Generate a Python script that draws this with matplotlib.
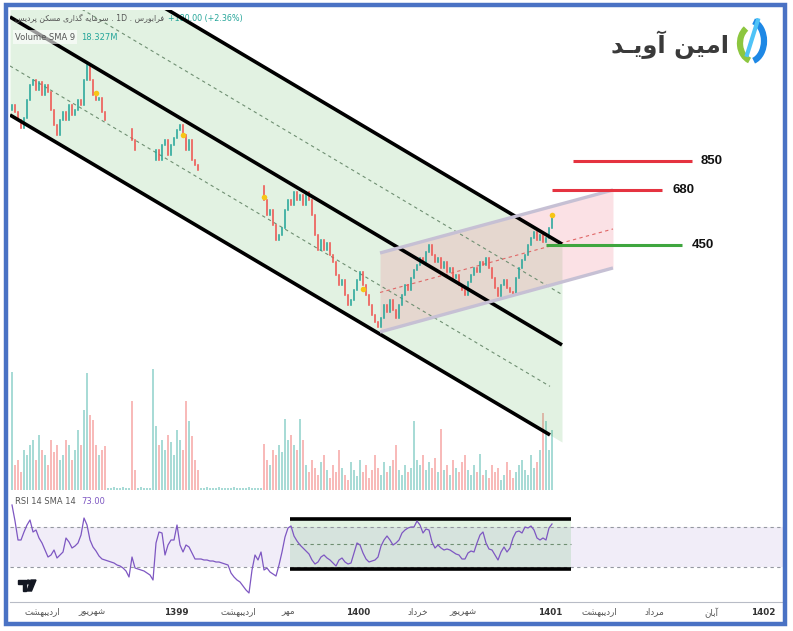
import numpy as np
import matplotlib.pyplot as plt
from matplotlib.patches import Rectangle, Arc, Polygon, Circle


OUTPUT_PATH = "out.png"
W, H = 793, 631

# ---- price data (daily, bar index 0..180) ----
closes = [
    1300, 1233, 1160, 1092, 1178, 1350, 1512, 1571, 1456, 1547,
    1402, 1512, 1434, 1251, 1117, 1035, 1160, 1233, 1160, 1300,
    1205, 1251, 1350, 1300, 1571, 1760, 1571, 1402, 1350, 1371,
    1233, 1160, 1143, 1134, 1126, 1117, 1109, 1100, 1092, 1083,
    997, 924, 877, 870, 870, 864, 857, 857, 924, 857,
    960, 997, 890, 960, 1012, 1075, 1117, 1035, 924, 997,
    857, 825, 794, 788, 788, 782, 782, 776, 776, 771,
    771, 765, 765, 759, 753, 747, 742, 736, 731, 725,
    720, 714, 709, 704, 633, 565, 587, 524, 467, 485,
    512, 587, 633, 609, 673, 633, 657, 609, 673, 633,
    565, 485, 433, 467, 433, 457, 417, 396, 359, 333,
    345, 308, 286, 297, 320, 345, 367, 333, 308, 286,
    265, 251, 241, 259, 286, 271, 297, 275, 259, 286,
    308, 333, 320, 351, 373, 387, 408, 396, 427, 450,
    417, 396, 408, 379, 396, 367, 379, 351, 359, 333,
    320, 308, 340, 359, 379, 367, 396, 387, 408, 379,
    351, 325, 306, 333, 345, 325, 315, 308, 351, 379,
    402, 417, 450, 474, 496, 467, 485, 460, 474, 512,
    552,
]
first_open = 1250
# bars where the symbol was halted (open == close, tiny dashes)
halt_ranges = [(32, 39), (42, 46), (63, 83)]

# volume in millions
volumes = [
    59, 12.5, 15, 9, 20, 17.5, 22.5, 25, 15, 27.5,
    20, 17.5, 12.5, 25, 19, 22.5, 15, 17.5, 25, 22.5,
    15, 20, 30, 22.5, 40, 58.5, 37.5, 35, 22.5, 17.5,
    20, 22, 1, 1, 1.5, 1, 1, 1.5, 1, 1,
    44.5, 10, 1, 1.5, 1, 1, 1, 60.5, 32, 22.5,
    25, 20, 27.5, 24, 17.5, 30, 25, 20, 44.5, 34.5,
    27, 15, 10, 1, 1, 1.5, 1, 1, 1, 1.5,
    1, 1, 1, 1, 1.5, 1, 1, 1, 1, 1.5,
    1, 1, 1, 1, 23, 15, 12.5, 20, 17.5, 22.5,
    19, 35.5, 25, 27.5, 22.5, 20, 35.5, 25, 12.5, 9,
    15, 11, 7.5, 14, 17.5, 10, 6, 12.5, 9, 20,
    11, 7.5, 5, 14, 10, 7, 15, 9, 12.5, 6,
    10, 17.5, 11, 7.5, 14, 9, 12, 15, 22.5, 10,
    7.5, 12.5, 9, 11, 34.5, 15, 12.5, 17.5, 10, 14,
    11, 16, 9, 30.5, 10, 12.5, 7.5, 15, 11, 9,
    14, 17.5, 10, 7.5, 12.5, 9, 18, 7.5, 10, 6,
    12.5, 9, 11, 5, 7.5, 14, 10, 6, 9, 12.5,
    15, 10, 7.5, 17.5, 11, 14, 20, 38.5, 34.5, 20,
    30,
]

rsi = [
    92, 76, 57, 57, 65, 72, 77, 65, 67, 59,
    54, 47, 40, 42, 47, 39, 42, 45, 59, 55,
    49, 51, 54, 62, 79, 72, 57, 50, 46, 41,
    38, 37, 36, 35, 34, 32, 31, 29, 26, 20,
    40, 29, 28, 27, 26, 24, 22, 17, 54, 65,
    64, 42, 52, 57, 57, 72, 52, 45, 52, 50,
    44, 38, 38, 38, 37, 37, 36, 36, 35, 35,
    34, 33, 32, 24, 20, 17, 15, 11, 7, 4,
    27, 42, 37, 45, 27, 29, 25, 23, 21, 32,
    45, 60, 69, 71, 61, 56, 52, 49, 46, 43,
    37, 33, 35, 40, 42, 39, 37, 34, 31, 37,
    39, 35, 33, 34, 44, 54, 52, 44, 38, 35,
    36, 37, 40, 51, 57, 61, 57, 52, 54, 57,
    64, 67, 69, 70, 70, 76, 72, 64, 68, 67,
    55, 49, 52, 49, 47, 48, 47, 45, 43, 42,
    38, 38, 44, 46, 45, 54, 62, 65, 54, 48,
    47, 42, 37, 45, 50, 45, 49, 59, 65, 66,
    64, 70, 69, 71, 67, 59, 57, 59, 57, 69,
    73,
]

# yellow marker dots (bar index, price)
dot_idx = [28, 57, 84, 117, 180]
dot_price = [1424, 1035, 648, 322, 565]

# drawings: (start index, start price, end index, end price)
desc_top = (-0.67, 5437, 183.33, 453)
desc_mid = (-0.67, 2532, 183.33, 211)
desc_low = (-0.67, 1205, 179.33, 106.7)
desc_fill_end = 183.33
rise_top = (122.67, 423.5, 200.33, 682.6)
rise_low = (122.67, 232.8, 200.33, 378)

# target levels: value, start index, end index, label index, colour
level_values = [850, 680, 450]
level_start = [187, 180, 178]
level_end = [226.7, 216.7, 223.3]
level_label_at = [229.5, 220, 226.5]
level_colors = ["#e53340", "#e53340", "#3fa63f"]

# RSI box drawing
rsi_box_x = (92.7, 186.3)
rsi_box_y = (28, 78)

tick_pos = [10, 26.7, 54.7, 75.3, 92, 115.3, 135.3, 150.3, 179.3, 195.7, 214.3, 233, 250.3]
tick_labels = ["اردیبهشت", "شهریور", "1399", "اردیبهشت", "مهر", "1400", "خرداد",
               "شهریور", "1401", "اردیبهشت", "مرداد", "آبان", "1402"]

# ---- minimal Persian shaping (matplotlib has no complex text layout) ----
FORMS = {
    "ا": ("\uFE8D", "\uFE8E", None, None),
    "آ": ("\uFE81", "\uFE82", None, None),
    "ب": ("\uFE8F", "\uFE90", "\uFE91", "\uFE92"),
    "پ": ("\uFB56", "\uFB57", "\uFB58", "\uFB59"),
    "ت": ("\uFE95", "\uFE96", "\uFE97", "\uFE98"),
    "خ": ("\uFEA5", "\uFEA6", "\uFEA7", "\uFEA8"),
    "د": ("\uFEA9", "\uFEAA", None, None),
    "ذ": ("\uFEAB", "\uFEAC", None, None),
    "ر": ("\uFEAD", "\uFEAE", None, None),
    "س": ("\uFEB1", "\uFEB2", "\uFEB3", "\uFEB4"),
    "ش": ("\uFEB5", "\uFEB6", "\uFEB7", "\uFEB8"),
    "ف": ("\uFED1", "\uFED2", "\uFED3", "\uFED4"),
    "ک": ("\uFB8E", "\uFB8F", "\uFB90", "\uFB91"),
    "گ": ("\uFB92", "\uFB93", "\uFB94", "\uFB95"),
    "م": ("\uFEE1", "\uFEE2", "\uFEE3", "\uFEE4"),
    "ن": ("\uFEE5", "\uFEE6", "\uFEE7", "\uFEE8"),
    "و": ("\uFEED", "\uFEEE", None, None),
    "ه": ("\uFEE9", "\uFEEA", "\uFEEB", "\uFEEC"),
    "ی": ("\uFBFC", "\uFBFD", "\uFBFE", "\uFBFF"),
    "ـ": ("ـ", "ـ", "ـ", "ـ"),
}


def fa(text):
    """Shape a Persian string and return it in visual (left-to-right) order."""
    if not any(c in FORMS for c in text):
        return text
    out = []
    for k, c in enumerate(text):
        if c not in FORMS:
            out.append(c)
            continue
        iso, fin, ini, med = FORMS[c]
        prev = text[k - 1] if k > 0 else ""
        nxt = text[k + 1] if k < len(text) - 1 else ""
        jp = prev in FORMS and FORMS[prev][2] is not None
        jn = ini is not None and nxt in FORMS
        if jp and jn:
            out.append(med)
        elif jp:
            out.append(fin)
        elif jn:
            out.append(ini)
        else:
            out.append(iso)
    return "".join(out)[::-1]


def fig_box(x0, y0, x1, y1):
    return [x0 / W, 1 - y1 / H, (x1 - x0) / W, (y1 - y0) / H]


def on_line(line, i):
    i0, p0, i1, p1 = line
    t = (i - i0) / (i1 - i0)
    return np.exp(np.log(p0) + t * (np.log(p1) - np.log(p0)))


def main():
    plt.rcParams["font.family"] = ["DejaVu Sans"]
    fig = plt.figure(figsize=(W / 100, H / 100), dpi=100)
    fig.patch.set_facecolor("white")

    c = np.array(closes, dtype=float)
    idx = np.arange(len(c))
    o = np.concatenate([[first_open], c[:-1]])
    for a, b in halt_ranges:
        o[a:b + 1] = c[a:b + 1]
    up = c >= o
    cand_col = np.where(up, "#26a69a", "#ef5350")
    xlim = (-0.67, 257)

    # volume pane (drawn underneath the price axes)
    ax_vol = fig.add_axes(fig_box(10, 10, 783, 490))
    ax_vol.bar(idx, volumes, width=0.5, color=np.where(up, "#26a69a", "#ef5350"),
               alpha=0.4, linewidth=0)
    ax_vol.set_xlim(*xlim)
    ax_vol.set_ylim(0, 240)
    ax_vol.axis("off")

    ax = fig.add_axes(fig_box(10, 10, 783, 490))
    ax.set_facecolor("none")
    ax.set_yscale("log")
    ax.set_xlim(*xlim)
    ax.set_ylim(70.3, 2669)
    ax.axis("off")

    # descending channel
    xs = np.array([desc_top[0], desc_fill_end])
    ax.fill_between(xs, on_line(desc_top, xs), on_line(desc_low, xs),
                    color="#4caf50", alpha=0.16, linewidth=0, zorder=1)
    for line in (desc_top, desc_mid, desc_low):
        ax.plot([line[0], line[2]], [line[1], line[3]], color="black", lw=2.6,
                solid_capstyle="butt", zorder=4)
    xm1 = np.array([desc_top[0], desc_top[2]])
    ax.plot(xm1, np.sqrt(on_line(desc_top, xm1) * on_line(desc_mid, xm1)),
            color="#6f8f72", lw=0.8, dashes=(3, 3), zorder=2)
    xm2 = np.array([desc_low[0], desc_low[2]])
    ax.plot(xm2, np.sqrt(on_line(desc_mid, xm2) * on_line(desc_low, xm2)),
            color="#6f8f72", lw=0.8, dashes=(3, 3), zorder=2)

    # rising channel
    xr = np.array([rise_top[0], rise_top[2]])
    ax.fill_between(xr, on_line(rise_top, xr), on_line(rise_low, xr),
                    color="#f08a9a", alpha=0.25, linewidth=0, zorder=1)
    for line in (rise_top, rise_low):
        ax.plot([line[0], line[2]], [line[1], line[3]], color="#c6c0d4", lw=2.4,
                solid_capstyle="butt", zorder=4)
    ax.plot(xr, np.sqrt(on_line(rise_top, xr) * on_line(rise_low, xr)),
            color="#e06666", lw=0.8, dashes=(3, 3), zorder=2)

    # candles: thin bodies, square caps so flat (halted) days show as dashes
    lo = np.minimum(o, c)
    hi = np.maximum(o, c)
    bodies = ax.vlines(idx, lo, hi, colors=cand_col, linewidth=1.15, zorder=3)
    bodies.set_capstyle("projecting")
    ax.scatter(dot_idx, dot_price, s=16, color="#f7c515", zorder=6, linewidths=0)

    # target levels
    for v, s, e, la, col in zip(level_values, level_start, level_end, level_label_at, level_colors):
        ax.plot([s, e], [v, v], color=col, lw=2.2, solid_capstyle="butt", zorder=5)
        ax.text(la, v, str(v), fontsize=9.5, fontweight="bold", family="Liberation Sans",
                color="#111111", va="center", ha="left")

    # RSI pane
    ax_r = fig.add_axes(fig_box(10, 492, 783, 602))
    ax_r.set_xlim(*xlim)
    ax_r.set_ylim(-5, 105)
    ax_r.axhspan(30, 70, color="#7e57c2", alpha=0.1, linewidth=0)
    ax_r.axhline(70, color="#9598a1", lw=0.8, dashes=(3, 3))
    ax_r.axhline(30, color="#9598a1", lw=0.8, dashes=(3, 3))
    ax_r.fill_between(rsi_box_x, rsi_box_y[0], rsi_box_y[1], color="#4caf50",
                      alpha=0.16, linewidth=0)
    for yv in rsi_box_y:
        ax_r.plot(rsi_box_x, [yv, yv], color="black", lw=2.6, solid_capstyle="butt")
    ax_r.plot(rsi_box_x, [np.mean(rsi_box_y)] * 2, color="#6f8f72", lw=0.8, dashes=(3, 3))
    ax_r.plot(idx, rsi, color="#7e57c2", lw=0.9)
    for sp in ("top", "left", "right"):
        ax_r.spines[sp].set_visible(False)
    ax_r.spines["bottom"].set_color("#b8bcc6")
    ax_r.spines["bottom"].set_linewidth(0.8)
    ax_r.set_yticks([])
    ax_r.set_xticks(tick_pos)
    ax_r.set_xticklabels([fa(t) for t in tick_labels], fontsize=6.3, color="#555555")
    for lab in ax_r.get_xticklabels():
        if lab.get_text().isdigit():
            lab.set_fontweight("bold")
            lab.set_color("#333333")
    ax_r.tick_params(axis="x", length=0, pad=4)
    ax_r.set_facecolor("none")

    # pane legends
    t1 = fig.text(15 / W, 1 - 19 / H, fa("سرمایه گذاری مسکن پردیس") + " . 1D . " + fa("فرابورس"),
                  fontsize=5.6, color="#555555", va="center")
    ax.annotate("+180.00 (+2.36%)", xy=(1, 0.5), xycoords=t1, xytext=(3, 0),
                textcoords="offset points", fontsize=5.8, color="#26a69a", va="center")
    t2 = fig.text(15 / W, 1 - 37 / H, "Volume SMA 9", fontsize=6, color="#555555", va="center",
                  bbox=dict(facecolor="white", alpha=0.6, edgecolor="none", pad=1.5))
    ax.annotate("18.327M", xy=(1, 0.5), xycoords=t2, xytext=(4, 0),
                textcoords="offset points", fontsize=6, color="#26a69a", va="center")
    t3 = fig.text(15 / W, 1 - 502 / H, "RSI 14 SMA 14", fontsize=6, color="#555555", va="center")
    ax.annotate("73.00", xy=(1, 0.5), xycoords=t3, xytext=(4, 0),
                textcoords="offset points", fontsize=6, color="#7e57c2", va="center")

    # logo
    fig.text(729 / W, 1 - 45 / H, fa("امین آویـد"), fontsize=17.5, fontweight="bold",
             color="#3a3a3a", ha="right", va="center")
    ax_logo = fig.add_axes(fig_box(733, 18, 773, 64))
    ax_logo.set_xlim(0, 1)
    ax_logo.set_ylim(0, 1)
    ax_logo.axis("off")
    ax_logo.add_patch(Arc((0.55, 0.45), 0.75, 0.8, theta1=125, theta2=250, lw=4.5, color="#8cc63f"))
    ax_logo.add_patch(Arc((0.4, 0.5), 0.75, 0.9, theta1=-75, theta2=75, lw=4.5, color="#1e88e5"))
    ax_logo.plot([0.35, 0.62], [0.2, 0.95], color="#4fc3f7", lw=3)

    # TradingView mark
    ax_tv = fig.add_axes(fig_box(17, 577, 37, 593))
    ax_tv.set_xlim(0, 20)
    ax_tv.set_ylim(16, 0)
    ax_tv.axis("off")
    ax_tv.add_patch(Polygon([(1, 3), (9, 3), (9, 14), (6, 14), (6, 7), (1, 7)],
                            closed=True, color="#131722"))
    ax_tv.add_patch(Circle((11.3, 5), 1.9, color="#131722"))
    ax_tv.add_patch(Polygon([(14, 3), (19, 3), (14.5, 14), (10, 14)],
                            closed=True, color="#131722"))

    # blue screenshot frame
    fig.add_artist(Rectangle((6 / W, 1 - 624 / H), 779 / W, 619 / H, transform=fig.transFigure,
                             fill=False, edgecolor="#4a72c4", linewidth=3.2))

    fig.savefig(OUTPUT_PATH, dpi=100)


if __name__ == "__main__":
    main()
